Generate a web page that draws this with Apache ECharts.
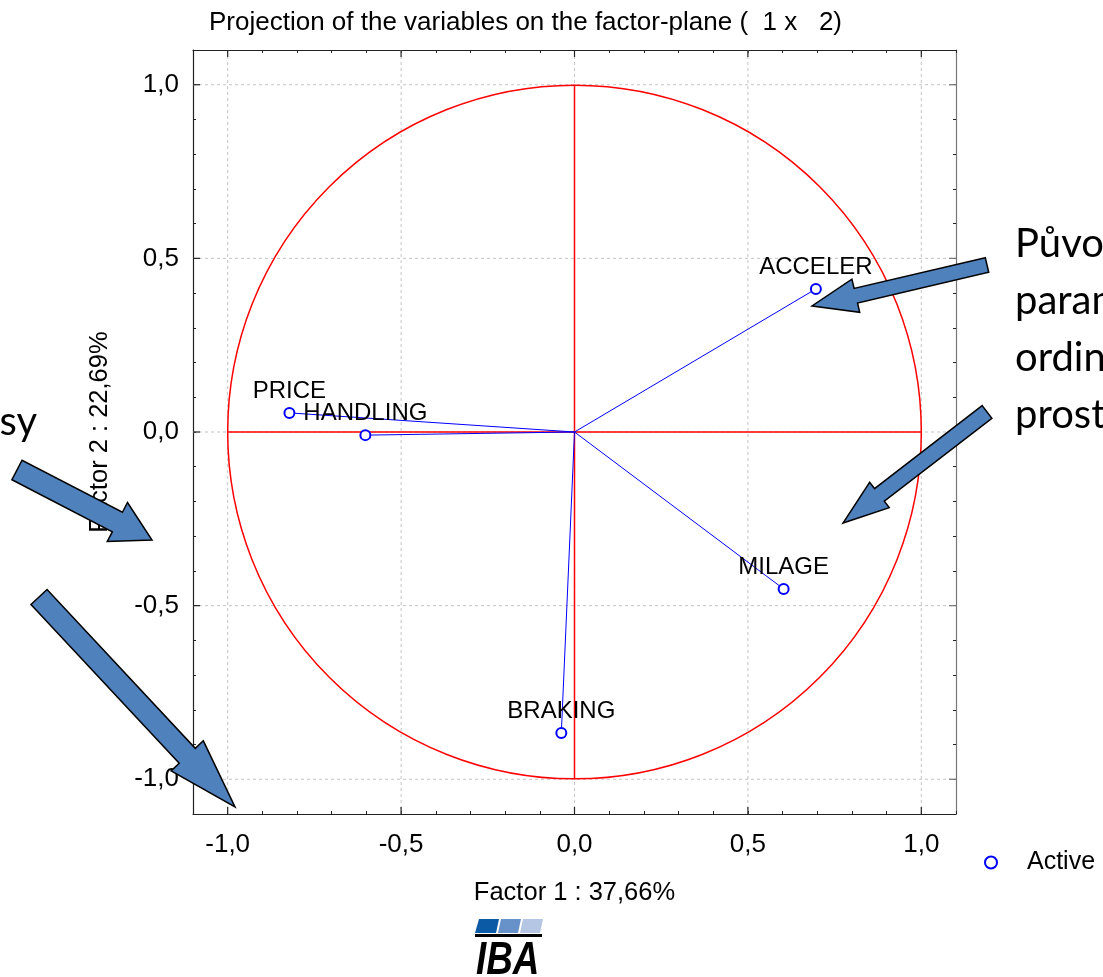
<!DOCTYPE html>
<html>
<head>
<meta charset="utf-8">
<script src="https://cdn.jsdelivr.net/npm/echarts@6/dist/echarts.min.js"></script>
<style>
html,body{margin:0;padding:0;background:#fff;overflow:hidden;}
#chart{width:1103px;height:977px;}
</style>
</head>
<body>
<div id="chart"></div>
<script>
// ---- data ----
var variableNames = ['PRICE', 'HANDLING', 'ACCELER', 'MILAGE', 'BRAKING'];
var factor1 = [-0.822, -0.603, 0.696, 0.603, -0.038];
var factor2 = [0.055, -0.009, 0.412, -0.452, -0.867];
var gridValues = [-1.0, -0.5, 0.0, 0.5, 1.0];
var axisMin = -1.1, axisMax = 1.1, axisStep = 0.1;
var titleText = 'Projection of the variables on the factor-plane (  1 x   2)';
var xName = 'Factor 1 : 37,66%';
var yName = 'Factor 2 : 22,69%';
var legendName = 'Active';
var noteRight = ['Původ', 'param', 'ordin', 'prost'];
var noteLeft = 'osy';

var FONT = '"Liberation Sans", Arial, sans-serif';

function fmt(v) {
  var r = Math.round(v * 10);
  if (r % 5 !== 0) return '';
  var s = (r / 10).toFixed(1);
  if (r === 0) s = '0.0';
  return s.replace('.', ',');
}

var points = variableNames.map(function (n, i) { return { name: n, value: [factor1[i], factor2[i]] }; });

function arrowPoly(tail, tip, sw, hw, hl) {
  var dx = tip[0] - tail[0], dy = tip[1] - tail[1];
  var L = Math.sqrt(dx * dx + dy * dy);
  var ux = dx / L, uy = dy / L, nx = -uy, ny = ux;
  var neck = [tip[0] - ux * hl, tip[1] - uy * hl];
  return [
    [tail[0] + nx * sw / 2, tail[1] + ny * sw / 2],
    [neck[0] + nx * sw / 2, neck[1] + ny * sw / 2],
    [neck[0] + nx * hw / 2, neck[1] + ny * hw / 2],
    tip,
    [neck[0] - nx * hw / 2, neck[1] - ny * hw / 2],
    [neck[0] - nx * sw / 2, neck[1] - ny * sw / 2],
    [tail[0] - nx * sw / 2, tail[1] - ny * sw / 2]
  ];
}
function arrow(tail, tip, sw, hw, hl) {
  return {
    type: 'polygon', z: 200,
    shape: { points: arrowPoly(tail, tip, sw, hw, hl) },
    style: { fill: '#4F81BD', stroke: '#000', lineWidth: 1.5 }
  };
}

var axisCommon = {
  type: 'value', min: axisMin, max: axisMax, interval: axisStep,
  axisLine: { show: true, onZero: false, lineStyle: { color: '#222', width: 1.2 } },
  axisTick: { show: true, inside: true, length: 3, lineStyle: { color: '#222' } },
  splitLine: { show: false }
};

var NOTE_FONT = '40px Lato, "Open Sans", sans-serif';

var chart = echarts.init(document.getElementById('chart'));
chart.setOption({
  backgroundColor: '#fff',
  animation: false,
  title: {
    text: titleText, left: 204, top: 5,
    textStyle: { fontFamily: FONT, fontSize: 26, fontWeight: 'normal', color: '#000' }
  },
  legend: {
    data: [{ name: legendName, icon: 'emptyCircle' }],
    left: 979, top: 845, itemWidth: 62, itemHeight: 12,
    textStyle: { fontFamily: FONT, fontSize: 25, color: '#000' }
  },
  grid: { left: 193, top: 50, width: 763, height: 764 },
  xAxis: [
    Object.assign({}, axisCommon, {
      position: 'bottom',
      axisLabel: { formatter: fmt, fontFamily: FONT, fontSize: 26, color: '#000', margin: 18 },
      name: xName, nameLocation: 'middle', nameGap: 66,
      nameTextStyle: { fontFamily: FONT, fontSize: 25.5, color: '#000' }
    }),
    Object.assign({}, axisCommon, { position: 'top', axisLabel: { show: false } })
  ],
  yAxis: [
    Object.assign({}, axisCommon, {
      position: 'left',
      axisLabel: { formatter: fmt, fontFamily: FONT, fontSize: 26, color: '#000', margin: 14 },
      name: yName, nameLocation: 'middle', nameGap: 80,
      nameTextStyle: { fontFamily: FONT, fontSize: 25.5, color: '#000' }
    }),
    Object.assign({}, axisCommon, {
      position: 'right', axisLabel: { show: false },
      axisLine: { show: true, onZero: false, lineStyle: { color: '#777', width: 1.2 } }
    })
  ],
  series: [
    {
      // dashed grid lines and major ticks
      type: 'custom', silent: true, z: 1,
      data: gridValues.map(function (v) { return [v, v]; }),
      renderItem: function (params, api) {
        var cs = params.coordSys;
        var p = api.coord([api.value(0), api.value(1)]);
        var dash = { stroke: '#c4c4c4', lineWidth: 1, lineDash: [3, 3] };
        var tk = { stroke: '#222', lineWidth: 1.2 };
        var x0 = cs.x, x1 = cs.x + cs.width, y0 = cs.y, y1 = cs.y + cs.height;
        return {
          type: 'group', children: [
            { type: 'line', shape: { x1: p[0], y1: y0, x2: p[0], y2: y1 }, style: dash },
            { type: 'line', shape: { x1: x0, y1: p[1], x2: x1, y2: p[1] }, style: dash },
            { type: 'line', shape: { x1: p[0], y1: y1, x2: p[0], y2: y1 - 7 }, style: tk },
            { type: 'line', shape: { x1: p[0], y1: y0, x2: p[0], y2: y0 + 7 }, style: tk },
            { type: 'line', shape: { x1: x0, y1: p[1], x2: x0 + 7, y2: p[1] }, style: tk },
            { type: 'line', shape: { x1: x1, y1: p[1], x2: x1 - 7, y2: p[1] }, style: { stroke: '#777', lineWidth: 1.2 } }
          ]
        };
      }
    },
    {
      // unit circle and red axes
      type: 'custom', silent: true, z: 2,
      data: [[0, 0]],
      renderItem: function (params, api) {
        var c = api.coord([0, 0]);
        var l = api.coord([-1, 0]), r = api.coord([1, 0]);
        var t = api.coord([0, 1]), b = api.coord([0, -1]);
        var red = { stroke: '#ff0000', lineWidth: 1.5, fill: null };
        return {
          type: 'group', children: [
            { type: 'circle', shape: { cx: c[0], cy: c[1], r: (r[0] - l[0]) / 2 }, style: red },
            { type: 'line', shape: { x1: l[0], y1: l[1], x2: r[0], y2: r[1] }, style: red },
            { type: 'line', shape: { x1: t[0], y1: t[1], x2: b[0], y2: b[1] }, style: red }
          ]
        };
      }
    },
    {
      // vectors from origin
      type: 'custom', silent: true, z: 3,
      data: points.map(function (p) { return p.value; }),
      renderItem: function (params, api) {
        var o = api.coord([0, 0]);
        var p = api.coord([api.value(0), api.value(1)]);
        return { type: 'line', shape: { x1: o[0], y1: o[1], x2: p[0], y2: p[1] }, style: { stroke: '#0000ff', lineWidth: 1 } };
      }
    },
    {
      name: legendName, type: 'scatter', z: 5,
      symbol: 'emptyCircle', symbolSize: 10,
      itemStyle: { color: '#0000ff', borderColor: '#0000ff', borderWidth: 2, opacity: 1 },
      label: {
        show: true, position: 'top', distance: 4,
        formatter: function (p) { return p.name; },
        fontFamily: FONT, fontSize: 24, color: '#000'
      },
      emphasis: { disabled: true },
      data: points
    }
  ],
  graphic: [
    arrow([987, 265], [812, 306], 15, 34, 45),
    arrow([987, 412], [843, 523], 16, 32, 46),
    arrow([17, 470], [152, 540], 22, 44, 39),
    arrow([39, 597], [235, 807], 22, 44, 70),
    { type: 'text', z: 210, left: 1015, top: 224, style: { text: noteRight[0], font: NOTE_FONT, fill: '#000' } },
    { type: 'text', z: 210, left: 1015, top: 281, style: { text: noteRight[1], font: NOTE_FONT, fill: '#000' } },
    { type: 'text', z: 210, left: 1015, top: 338, style: { text: noteRight[2], font: NOTE_FONT, fill: '#000' } },
    { type: 'text', z: 210, left: 1015, top: 395, style: { text: noteRight[3], font: NOTE_FONT, fill: '#000' } },
    { type: 'text', z: 210, x: 37, y: 402, style: { text: noteLeft, font: NOTE_FONT, fill: '#000', align: 'right', verticalAlign: 'top' } },
    // IBA logo
    { type: 'polygon', shape: { points: [[479, 919], [499, 919], [496, 933], [475, 933]] }, style: { fill: '#0b5aa6' } },
    { type: 'polygon', shape: { points: [[501, 919], [521, 919], [518, 933], [498, 933]] }, style: { fill: '#6791c9' } },
    { type: 'polygon', shape: { points: [[523, 919], [543, 919], [540, 933], [520, 933]] }, style: { fill: '#b5c6e5' } },
    { type: 'rect', shape: { x: 475, y: 934, width: 67, height: 3 }, style: { fill: '#000' } },
    { type: 'text', x: 476, y: 938, scaleX: 0.8, style: { text: 'IBA', font: 'italic bold 46px "Liberation Sans", Arial, sans-serif', fill: '#000', verticalAlign: 'top' } }
  ]
});
</script>
</body>
</html>
